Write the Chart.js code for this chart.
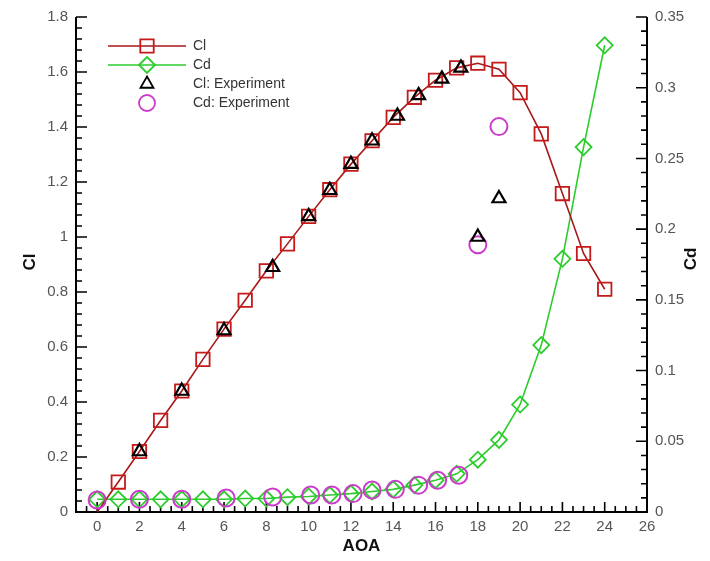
<!DOCTYPE html>
<html>
<head>
<meta charset="utf-8">
<script src="https://cdn.jsdelivr.net/npm/chart.js@4.4.1/dist/chart.umd.min.js"></script>
<style>
  html, body { margin: 0; padding: 0; background: #fff; }
  #chart { display: block; }
</style>
</head>
<body>
<canvas id="chart" width="710" height="561"></canvas>
<script>
/* ---- data ---- */
const aoa = [0, 1, 2, 3, 4, 5, 6, 7, 8, 9, 10, 11, 12, 13, 14, 15, 16, 17, 18, 19, 20, 21, 22, 23, 24];
const clValues = [0, 0.109, 0.22, 0.333, 0.44, 0.555, 0.665, 0.77, 0.877, 0.975, 1.075, 1.172, 1.265, 1.35, 1.435, 1.508, 1.57, 1.615, 1.632, 1.61, 1.525, 1.375, 1.158, 0.94, 0.81];
const cdValues = [0.009, 0.009, 0.009, 0.009, 0.009, 0.009, 0.009, 0.0095, 0.0095, 0.0105, 0.011, 0.012, 0.013, 0.0145, 0.016, 0.019, 0.0225, 0.027, 0.037, 0.051, 0.076, 0.118, 0.179, 0.258, 0.330];

const clExpAoa = [2, 4, 6, 8.3, 10, 11, 12, 13, 14.2, 15.2, 16.3, 17.2, 18, 19];
const clExpValues = [0.22, 0.44, 0.66, 0.89, 1.075, 1.17, 1.265, 1.35, 1.44, 1.515, 1.575, 1.615, 1.0, 1.14];

const cdExpAoa = [0, 2, 4, 6.1, 8.3, 10.1, 11.1, 12.1, 13, 14.1, 15.2, 16.1, 17.1, 18, 19];
const cdExpValues = [0.0085, 0.009, 0.009, 0.0099, 0.0106, 0.012, 0.012, 0.013, 0.0155, 0.016, 0.019, 0.0225, 0.026, 0.189, 0.2725];

const xTicks = [0, 2, 4, 6, 8, 10, 12, 14, 16, 18, 20, 22, 24, 26];
const clTicks = [0, 0.2, 0.4, 0.6, 0.8, 1, 1.2, 1.4, 1.6, 1.8];
const cdTicks = [0, 0.05, 0.1, 0.15, 0.2, 0.25, 0.3, 0.35];

const RED = "#c41a1a";
const GREEN = "#2ccc2c";
const MAGENTA = "#cc3acc";
const LABEL_FONT = { family: "'Liberation Sans', Arial, sans-serif", size: 15 };

function pairs(xs, ys) {
    return xs.map((x, i) => ({ x: x, y: ys[i] }));
}

/* draws one marker shape, same shapes as the datasets use */
function marker(ctx, style, x, y, r, color) {
    ctx.save();
    ctx.strokeStyle = color;
    ctx.lineWidth = 1.8;
    ctx.beginPath();
    if (style === "rect") {
        const s = r * Math.SQRT1_2;
        ctx.rect(x - s, y - s, 2 * s, 2 * s);
    } else if (style === "rectRot") {
        ctx.moveTo(x - r, y);
        ctx.lineTo(x, y - r);
        ctx.lineTo(x + r, y);
        ctx.lineTo(x, y + r);
        ctx.closePath();
    } else if (style === "triangle") {
        ctx.moveTo(x, y - r);
        ctx.lineTo(x + r * Math.sin(Math.PI / 3), y + r * 0.5);
        ctx.lineTo(x - r * Math.sin(Math.PI / 3), y + r * 0.5);
        ctx.closePath();
    } else {
        ctx.arc(x, y, r, 0, Math.PI * 2);
    }
    ctx.stroke();
    ctx.restore();
}

/* left, right and bottom axis lines with inward major / minor ticks */
const frameTicks = {
    id: "frameTicks",
    beforeDatasetsDraw(chart) {
        const ctx = chart.ctx;
        const a = chart.chartArea;
        const sx = chart.scales.x, sl = chart.scales.y, sr = chart.scales.y2;
        ctx.save();
        ctx.strokeStyle = "#000";
        ctx.lineWidth = 1.6;
        ctx.beginPath();
        for (let i = 0; i <= 54; i++) {
            const px = sx.getPixelForValue(-1 + i * 0.5);
            const len = (i % 4 === 2) ? 10 : 6;
            ctx.moveTo(px, a.bottom);
            ctx.lineTo(px, a.bottom - len);
        }
        for (let i = 0; i <= 45; i++) {
            const py = sl.getPixelForValue(i * 0.04);
            const len = (i % 5 === 0) ? 11 : 6;
            ctx.moveTo(a.left, py);
            ctx.lineTo(a.left + len, py);
        }
        for (let i = 0; i <= 35; i++) {
            const py = sr.getPixelForValue(i * 0.01);
            const len = (i % 5 === 0) ? 11 : 6;
            ctx.moveTo(a.right, py);
            ctx.lineTo(a.right - len, py);
        }
        ctx.stroke();
        ctx.lineWidth = 2;
        ctx.beginPath();
        ctx.moveTo(a.left, a.top);
        ctx.lineTo(a.left, a.bottom);
        ctx.lineTo(a.right, a.bottom);
        ctx.lineTo(a.right, a.top);
        ctx.stroke();
        ctx.restore();
    },
    afterDraw(chart) {
        const ctx = chart.ctx;
        const a = chart.chartArea;
        ctx.save();
        ctx.fillStyle = "#111";
        ctx.font = "bold 17px 'Liberation Sans', Arial, sans-serif";
        ctx.textAlign = "center";
        ctx.textBaseline = "middle";
        ctx.fillText("AOA", (a.left + a.right) / 2, 546);
        ctx.save();
        ctx.translate(30, 262);
        ctx.rotate(-Math.PI / 2);
        ctx.fillText("Cl", 0, 0);
        ctx.restore();
        ctx.save();
        ctx.translate(691, 259);
        ctx.rotate(-Math.PI / 2);
        ctx.fillText("Cd", 0, 0);
        ctx.restore();

        /* legend */
        const rows = [
            { text: "Cl", style: "rect", r: 9.5, color: RED, line: "#a81818", y: 46 },
            { text: "Cd", style: "rectRot", r: 8, color: GREEN, line: GREEN, y: 65 },
            { text: "Cl: Experiment", style: "triangle", r: 7.5, color: "#000", line: null, y: 84 },
            { text: "Cd: Experiment", style: "circle", r: 8, color: MAGENTA, line: null, y: 103 }
        ];
        ctx.font = "14px 'Liberation Sans', Arial, sans-serif";
        ctx.textAlign = "left";
        rows.forEach(row => {
            if (row.line) {
                ctx.strokeStyle = row.line;
                ctx.lineWidth = 1.6;
                ctx.beginPath();
                ctx.moveTo(108, row.y);
                ctx.lineTo(186, row.y);
                ctx.stroke();
            }
            marker(ctx, row.style, 147, row.y, row.r, row.color);
            ctx.fillStyle = "#333";
            ctx.fillText(row.text, 193, row.y);
        });
        ctx.restore();
    }
};

new Chart(document.getElementById("chart"), {
    type: "scatter",
    data: {
        datasets: [
            {
                label: "Cl",
                data: pairs(aoa, clValues),
                yAxisID: "y",
                showLine: true,
                borderColor: "#a81818",
                borderWidth: 1.6,
                pointStyle: "rect",
                // no marker on the point sitting on the axis
                pointRadius: c => (c.dataIndex === 0 ? 0 : 9.5),
                pointBorderColor: RED,
                pointBorderWidth: 1.8,
                pointBackgroundColor: "rgba(255,255,255,0)",
                order: 2
            },
            {
                label: "Cd",
                data: pairs(aoa, cdValues),
                yAxisID: "y2",
                showLine: true,
                borderColor: GREEN,
                borderWidth: 1.6,
                pointStyle: "rectRot",
                pointRadius: 8,
                pointBorderColor: GREEN,
                pointBorderWidth: 1.8,
                pointBackgroundColor: "rgba(255,255,255,0)",
                order: 2
            },
            {
                label: "Cl: Experiment",
                data: pairs(clExpAoa, clExpValues),
                yAxisID: "y",
                showLine: false,
                pointStyle: "triangle",
                pointRadius: 7.5,
                pointBorderColor: "#000",
                pointBorderWidth: 2.2,
                pointBackgroundColor: "rgba(255,255,255,0)",
                order: 1
            },
            {
                label: "Cd: Experiment",
                data: pairs(cdExpAoa, cdExpValues),
                yAxisID: "y2",
                showLine: false,
                pointStyle: "circle",
                pointRadius: 8.5,
                pointBorderColor: MAGENTA,
                pointBorderWidth: 2,
                pointBackgroundColor: "rgba(255,255,255,0)",
                order: 1
            }
        ]
    },
    options: {
        responsive: false,
        animation: false,
        clip: false,
        layout: { padding: { top: 15, left: 0, right: 0, bottom: 0 } },
        plugins: {
            legend: { display: false },
            tooltip: { enabled: false }
        },
        scales: {
            x: {
                type: "linear",
                min: -1,
                max: 26,
                afterBuildTicks: s => { s.ticks = xTicks.map(v => ({ value: v })); },
                afterFit: s => { s.height = 49; },
                grid: { display: false, drawTicks: false },
                border: { display: false },
                ticks: { color: "#555", font: LABEL_FONT, padding: 6, maxRotation: 0, autoSkip: false }
            },
            y: {
                type: "linear",
                position: "left",
                min: 0,
                max: 1.8,
                afterBuildTicks: s => { s.ticks = clTicks.map(v => ({ value: v })); },
                afterFit: s => { s.width = 76; },
                grid: { display: false, drawTicks: false },
                border: { display: false },
                ticks: { color: "#555", font: LABEL_FONT, padding: 8, callback: v => String(v) }
            },
            y2: {
                type: "linear",
                position: "right",
                min: 0,
                max: 0.35,
                afterBuildTicks: s => { s.ticks = cdTicks.map(v => ({ value: v })); },
                afterFit: s => { s.width = 63; },
                grid: { display: false, drawTicks: false },
                border: { display: false },
                ticks: { color: "#555", font: LABEL_FONT, padding: 8, callback: v => String(v) }
            }
        }
    },
    plugins: [frameTicks]
});
</script>
</body>
</html>
